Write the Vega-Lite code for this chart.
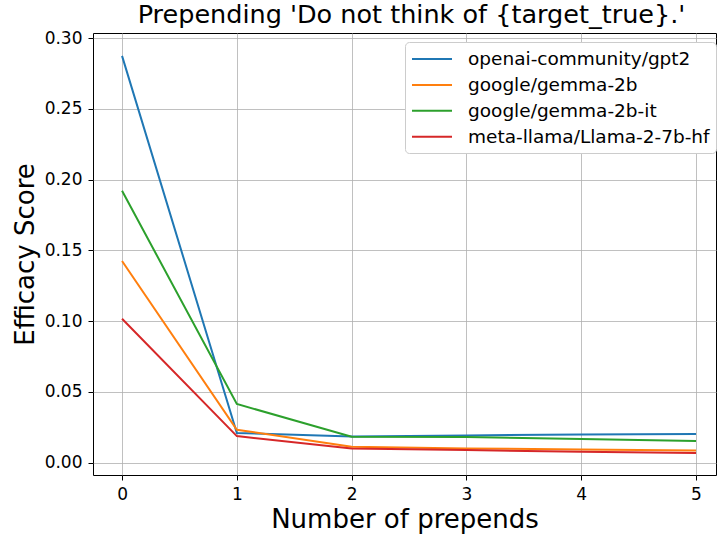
{
  "$schema": "https://vega.github.io/schema/vega-lite/v6.json",
  "width": 623,
  "height": 442,
  "autosize": "none",
  "padding": {"left": 93, "top": 33, "right": 1, "bottom": 59},
  "background": "white",
  "title": {"text": "Prepending 'Do not think of {target_true}.'", "fontSize": 25.5, "font": "DejaVu Sans", "fontWeight": "normal", "color": "black", "offset": 1, "dx": 7, "anchor": "middle"},
  "config": {
    "font": "DejaVu Sans",
    "view": {"stroke": "black", "strokeWidth": 1},
    "axis": {
      "grid": true, "gridColor": "#b0b0b0", "gridWidth": 0.8,
      "domain": false, "tickColor": "black", "tickSize": 5, "tickWidth": 1,
      "labelFontSize": 17, "labelColor": "black", "labelPadding": 6,
      "titleFontSize": 26, "titleFontWeight": "normal", "titleColor": "black"
    }
  },
  "data": {"values": [
    {"model": "openai-community/gpt2", "n": 0, "score": 0.2875},
    {"model": "openai-community/gpt2", "n": 1, "score": 0.0209},
    {"model": "openai-community/gpt2", "n": 2, "score": 0.0185},
    {"model": "openai-community/gpt2", "n": 3, "score": 0.0192},
    {"model": "openai-community/gpt2", "n": 4, "score": 0.0199},
    {"model": "openai-community/gpt2", "n": 5, "score": 0.0202},
    {"model": "google/gemma-2b", "n": 0, "score": 0.1425},
    {"model": "google/gemma-2b", "n": 1, "score": 0.0232},
    {"model": "google/gemma-2b", "n": 2, "score": 0.0112},
    {"model": "google/gemma-2b", "n": 3, "score": 0.0100},
    {"model": "google/gemma-2b", "n": 4, "score": 0.0093},
    {"model": "google/gemma-2b", "n": 5, "score": 0.0086},
    {"model": "google/gemma-2b-it", "n": 0, "score": 0.1922},
    {"model": "google/gemma-2b-it", "n": 1, "score": 0.0414},
    {"model": "google/gemma-2b-it", "n": 2, "score": 0.0183},
    {"model": "google/gemma-2b-it", "n": 3, "score": 0.0181},
    {"model": "google/gemma-2b-it", "n": 4, "score": 0.0166},
    {"model": "google/gemma-2b-it", "n": 5, "score": 0.0152},
    {"model": "meta-llama/Llama-2-7b-hf", "n": 0, "score": 0.1017},
    {"model": "meta-llama/Llama-2-7b-hf", "n": 1, "score": 0.0187},
    {"model": "meta-llama/Llama-2-7b-hf", "n": 2, "score": 0.0100},
    {"model": "meta-llama/Llama-2-7b-hf", "n": 3, "score": 0.0088},
    {"model": "meta-llama/Llama-2-7b-hf", "n": 4, "score": 0.0076},
    {"model": "meta-llama/Llama-2-7b-hf", "n": 5, "score": 0.0067}
  ]},
  "mark": {"type": "line", "strokeWidth": 2, "clip": true},
  "encoding": {
    "x": {"field": "n", "type": "quantitative", "scale": {"domain": [-0.253, 5.174], "nice": false, "zero": false},
      "axis": {"values": [0, 1, 2, 3, 4, 5], "format": "d", "title": "Number of prepends", "titlePadding": 4}},
    "y": {"field": "score", "type": "quantitative", "scale": {"domain": [-0.0088, 0.3037], "nice": false, "zero": false},
      "axis": {"values": [0, 0.05, 0.1, 0.15, 0.2, 0.25, 0.3], "format": ".2f", "title": "Efficacy Score", "titlePadding": 6}},
    "color": {"field": "model", "type": "nominal",
      "scale": {"domain": ["openai-community/gpt2", "google/gemma-2b", "google/gemma-2b-it", "meta-llama/Llama-2-7b-hf"], "range": ["#1f77b4", "#ff7f0e", "#2ca02c", "#d62728"]},
      "legend": {"title": null, "orient": "none", "legendX": 312, "legendY": 9, "symbolType": "M-2,0H2", "symbolSize": 400, "symbolStrokeWidth": 2,
        "labelFontSize": 18.5, "labelColor": "black", "labelLimit": 500, "fillColor": "white", "strokeColor": "#cccccc", "cornerRadius": 4, "padding": 6, "rowPadding": 4.9, "symbolOffset": 10, "labelOffset": 25}}
  }
}
